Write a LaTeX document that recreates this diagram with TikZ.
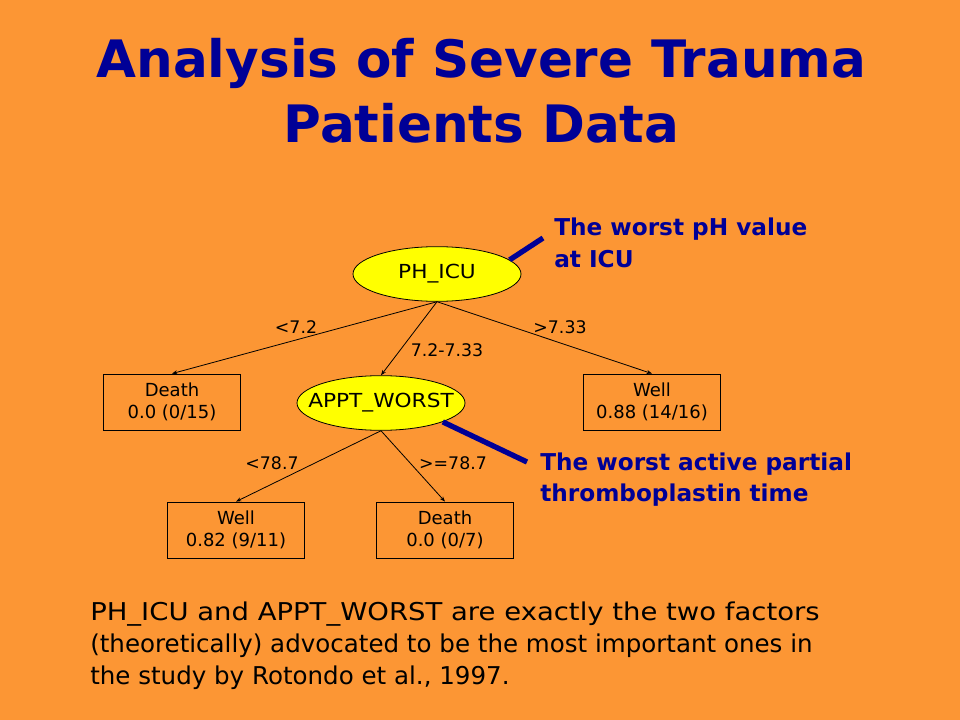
\documentclass[tikz,border=0pt]{standalone}
\usepackage{fontspec}
\setmainfont{DejaVu Sans}
\newfontfamily\widefont[FakeStretch=1.12]{DejaVu Sans}
\usetikzlibrary{shapes.geometric,arrows.meta}
\definecolor{bgorange}{RGB}{252,150,52}
\definecolor{navy}{RGB}{0,0,150}
\definecolor{ellyellow}{RGB}{255,255,0}
\tikzset{
  ellnode/.style={ellipse,draw=black,line width=0.6pt,fill=ellyellow,minimum width=126pt,minimum height=41pt,inner sep=0pt},
  ellfont/.style={inner sep=0pt,font=\widefont\fontsize{14.5}{16}\selectfont},
  leafbox/.style={rectangle,draw=black,line width=0.6pt,minimum width=103pt,minimum height=42pt,inner sep=0pt,align=center,font=\fontsize{13.5}{16.5}\selectfont},
  edge/.style={line width=0.6pt,-{Stealth[length=4pt,width=3pt]}},
  elabel/.style={font=\fontsize{13}{15}\selectfont},
  callline/.style={navy,line width=4pt},
  calltext/.style={navy,anchor=base west,inner sep=0pt,font=\bfseries\fontsize{17.4}{21}\selectfont},
  titletext/.style={navy,anchor=base,font=\bfseries\fontsize{38.7}{44}\selectfont},
  bodytext/.style={anchor=base west,inner sep=0pt,font=\fontsize{18.4}{22}\selectfont},
  bodywide/.style={bodytext,font=\widefont\fontsize{18.4}{22}\selectfont}
}
\begin{document}
\begin{tikzpicture}[x=0.75pt,y=-0.75pt]
\fill[bgorange] (0,0) rectangle (960,720);
\useasboundingbox (0,0) rectangle (960,720);
% title
\node[titletext] (t1) at (481.5,78) {Analysis of Severe Trauma};
\node[titletext] (t2) at (481.5,143) {Patients Data};
% tree nodes
\node[ellnode,label={[ellfont]center:PH\_ICU}] (ph) at (437,274) {};
\node[ellnode,label={[ellfont]center:APPT\_WORST}] (appt) at (381,403) {};
\node[leafbox] (death1) at (172,402) {Death\\0.0 (0/15)};
\node[leafbox] (well1) at (652,402) {Well\\0.88 (14/16)};
\node[leafbox] (well2) at (236,530) {Well\\0.82 (9/11)};
\node[leafbox] (death2) at (445,530) {Death\\0.0 (0/7)};
% edges
\draw[edge] (ph.south) -- (death1.north);
\draw[edge] (ph.south) -- (appt.north);
\draw[edge] (ph.south) -- (well1.north);
\draw[edge] (appt.south) -- (well2.north);
\draw[edge] (appt.south) -- (death2.north);
% edge labels
\node[elabel] (l1) at (296,327) {<7.2};
\node[elabel] (l2) at (447,350) {7.2-7.33};
\node[elabel] (l3) at (560,327) {>7.33};
\node[elabel] (l4) at (272,463) {<78.7};
\node[elabel] (l5) at (453,463) {>=78.7};
% callouts
\coordinate (c1) at (543,238);
\coordinate (c2) at (527,462);
\draw[callline] (ph.11) -- (c1);
\draw[callline] (appt.-17) -- (c2);
\node[calltext] (ct1) at (554,236) {The worst pH value};
\node[calltext] (ct2) at (554,268) {at ICU};
\node[calltext] (ct3) at (540,470) {The worst active partial};
\node[calltext] (ct4) at (540,501) {thromboplastin time};
% body text
\node[bodywide] (b1) at (90,620) {PH\_ICU and APPT\_WORST are exactly the two factors};
\node[bodytext] (b2) at (90,652) {(theoretically) advocated to be the most important ones in};
\node[bodytext] (b3) at (90,684) {the study by Rotondo et al., 1997.};
\end{tikzpicture}
\end{document}
